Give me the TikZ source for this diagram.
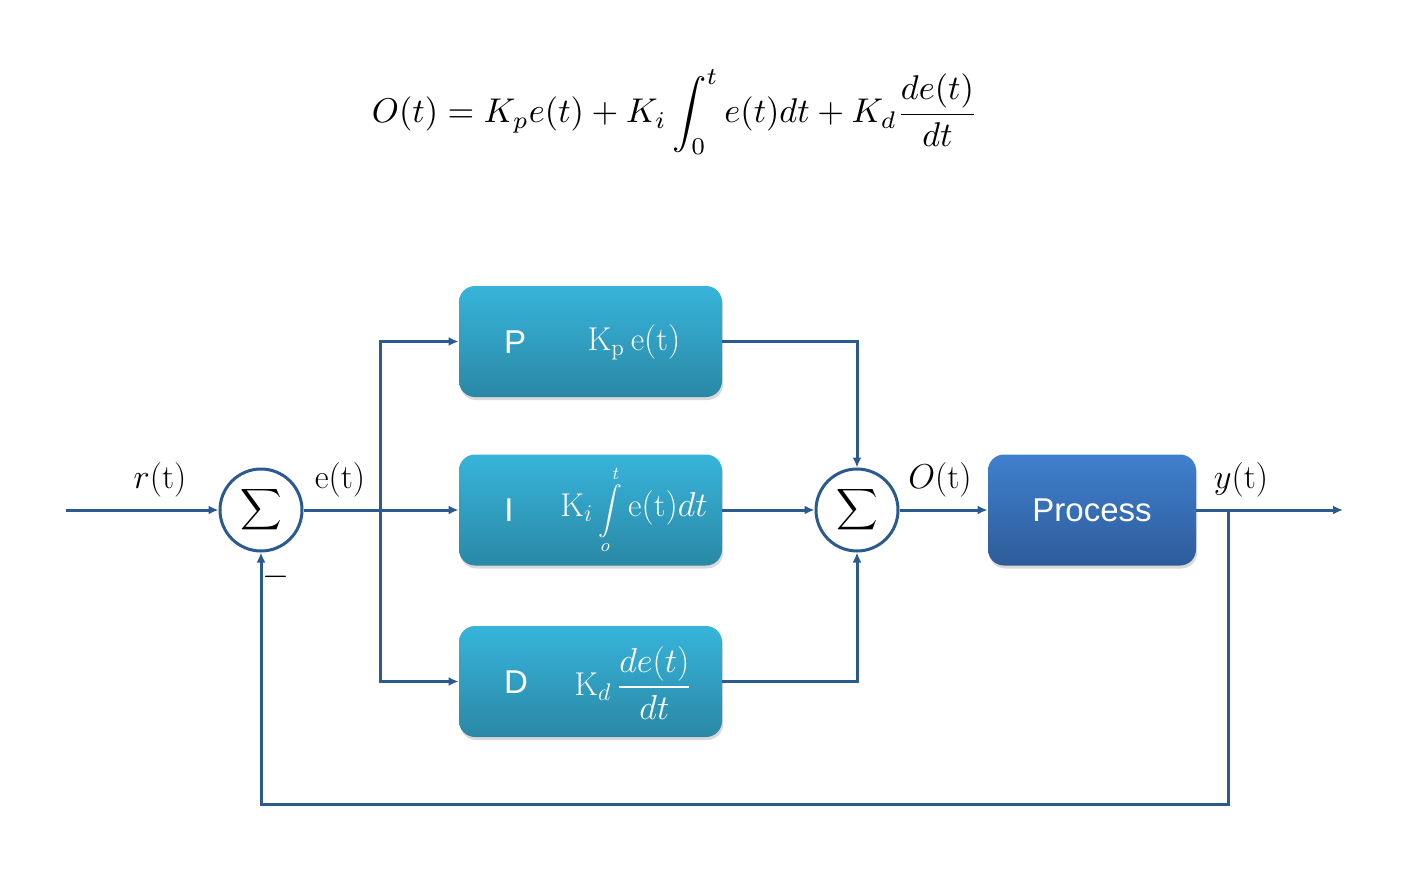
\documentclass[tikz,border=0pt]{standalone}
\usepackage{amsmath}
\usepackage{fontspec}
\newfontfamily\arial{Liberation Sans}
\usetikzlibrary{arrows.meta,shadows,calc}
\definecolor{lineblue}{HTML}{2B5A8E}
\definecolor{pidtop}{HTML}{37B4DA}
\definecolor{pidbot}{HTML}{2A88A6}
\definecolor{proctop}{HTML}{3F80CE}
\definecolor{procbot}{HTML}{2E5C9A}
\begin{document}
\begin{tikzpicture}[x=0.5pt,y=-0.5pt,
  conn/.style={draw=lineblue,line width=1.5pt},
  arr/.style={conn,-{Latex[length=5pt,width=4.5pt]}},
  sumnode/.style={circle,draw=lineblue,line width=1.5pt,fill=white,minimum size=41pt,inner sep=0pt,font=\fontsize{15}{18}\selectfont},
  boxbase/.style={rounded corners=8pt,draw=none,minimum height=55.5pt,inner sep=0pt,
     drop shadow={opacity=0.3,shadow xshift=0.6pt,shadow yshift=-1.5pt}},
  pidbox/.style={boxbase,top color=pidtop,bottom color=pidbot,minimum width=131.5pt},
  procbox/.style={boxbase,top color=proctop,bottom color=procbot,minimum width=104pt},
  letter/.style={text=white,font=\arial\fontsize{16.5}{19}\selectfont,inner sep=0pt},
  formula/.style={text=white,font=\fontsize{16.5}{19}\selectfont,inner sep=0pt},
  sig/.style={font=\fontsize{17}{20}\selectfont,inner sep=0pt}
]
\useasboundingbox (0,0) rectangle (1408,872);

% equation
\node[inner sep=0pt] (eq) at (675,112)
  {\resizebox{303pt}{!}{$\displaystyle O(t)=K_pe(t)+K_i\int_0^t e(t)dt+K_d\frac{de(t)}{dt}$}};

% summing junctions
\node[sumnode] (s1) at (261,510) {$\displaystyle\sum$};
\node[sumnode] (s2) at (857,510) {$\displaystyle\sum$};

% PID boxes
\node[pidbox] (P) at (590.5,341.5) {};
\node[pidbox] (I) at (590.5,510) {};
\node[pidbox] (D) at (590.5,681.5) {};
\node[procbox] (proc) at (1092,510) {};

\node[letter] (Pl) at (515,342) {P};
\node[letter] (Il) at (509,510) {I};
\node[letter] (Dl) at (516,682) {D};
\node[letter] (procl) at (1092,510) {Process};

\node[formula] (Pf) at (634,342) {$\mathrm{K_p\,e(t)}$};
\node[formula] (If) at (634,510) {$\mathrm{K}_{i}$\,{\fontsize{12.5}{15}\selectfont$\displaystyle\int\limits_{o}^{t}$}\,$\mathrm{e(t)}dt$};
\node[formula] (Df) at (633,683) {$\mathrm{K}_{d}\,\displaystyle\frac{de(t)}{dt}$};

% signal labels
\node[sig] (rl) at (160,480) {$r\mathrm{(t)}$};
\node[sig] (el) at (340,480) {$\mathrm{e(t)}$};
\node[sig] (ol) at (940,480) {$O\mathrm{(t)}$};
\node[sig] (yl) at (1241,480) {$y\mathrm{(t)}$};
\node[sig] (minus) at (276,577) {$-$};

% coordinates
\coordinate (in) at (66,510);
\coordinate (j1) at (380,510);
\coordinate (j2) at (1228,510);
\coordinate (out) at (1343,510);
\coordinate (fb) at (1228,804);

% connectors
\draw[arr] (in) -- (s1.west);
\draw[conn] (s1.east) -- (j1);
\draw[arr] (j1) -- (I.west);
\draw[arr] (j1) |- (P.west);
\draw[arr] (j1) |- (D.west);
\draw[arr] (P.east) -| (s2.north);
\draw[arr] (D.east) -| (s2.south);
\draw[arr] (I.east) -- (s2.west);
\draw[arr] (s2.east) -- (proc.west);
\draw[arr] (proc.east) -- (out);
\draw[arr] (j2) -- (fb) -| (s1.south);
\end{tikzpicture}
\end{document}
